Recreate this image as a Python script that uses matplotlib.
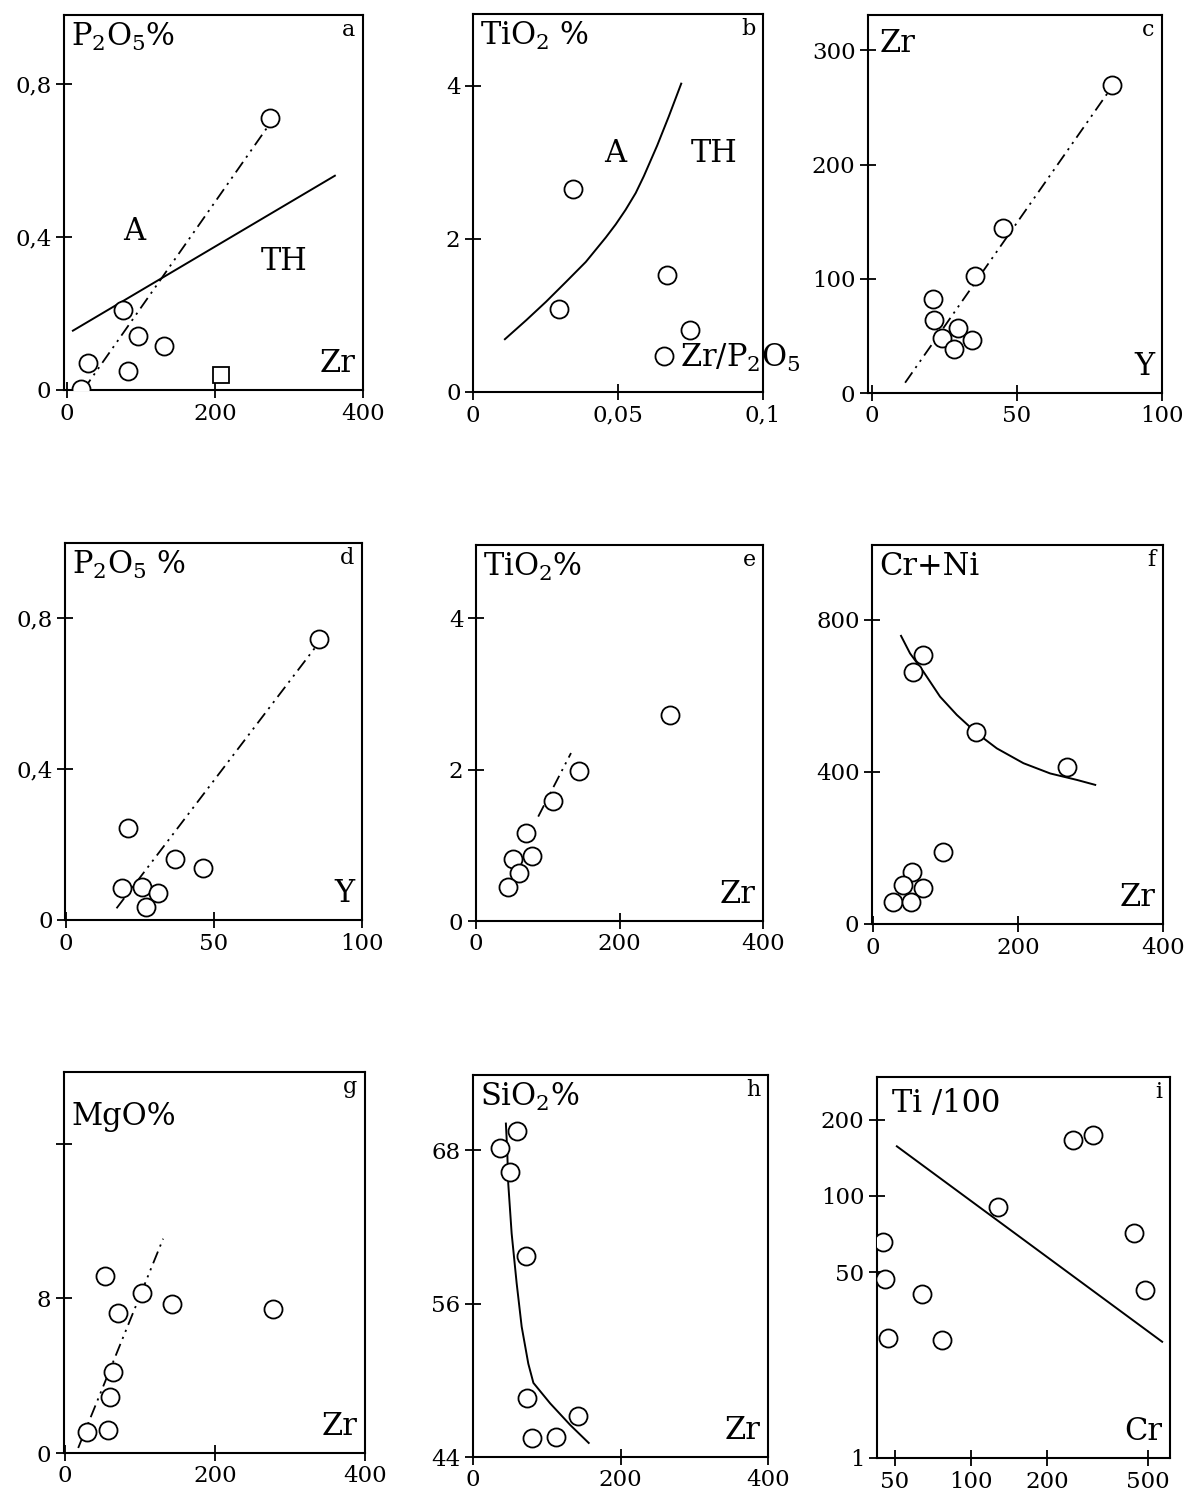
import matplotlib
matplotlib.use('Agg')
import matplotlib.pyplot as plt

plt.rcParams['font.family'] = ['DejaVu Serif']
plt.rcParams['mathtext.fontset'] = 'dejavuserif'

W, H = 1187, 1501

# a: P2O5 vs Zr
a_zr = [19, 29, 76, 96, 131, 83, 275]
a_p2o5 = [0.003, 0.07, 0.21, 0.14, 0.115, 0.05, 0.71]
a_sq_zr = [208]
a_sq_p2o5 = [0.04]
a_div_zr = [8, 362]
a_div_p2o5 = [0.155, 0.56]
a_trend_zr = [22, 272]
a_trend_p2o5 = [0.0, 0.69]

# b: TiO2 vs Zr/P2O5
b_ratio = [0.0346, 0.0295, 0.0668, 0.0747, 0.0658]
b_tio2 = [2.65, 1.08, 1.53, 0.81, 0.47]
b_div_ratio = [0.0110, 0.0184, 0.0252, 0.0321, 0.0389, 0.0458, 0.0492, 0.0526,
               0.0561, 0.0589, 0.0635, 0.0675, 0.0718]
b_div_tio2 = [0.69, 0.94, 1.18, 1.44, 1.70, 2.02, 2.19, 2.38, 2.60, 2.82, 3.22, 3.60, 4.03]

# c: Zr vs Y
c_y = [82.6, 45.3, 35.5, 21.1, 21.4, 24.0, 29.8, 28.3, 34.4]
c_zr = [269.5, 144.6, 102.4, 82.2, 63.9, 47.8, 56.6, 38.2, 46.4]
c_trend_y = [11.4, 81.5]
c_trend_zr = [9.0, 263.6]

# d: P2O5 vs Y
d_y = [85.6, 21.0, 37.0, 46.4, 19.1, 25.6, 31.0, 26.9]
d_p2o5 = [0.746, 0.243, 0.163, 0.139, 0.086, 0.088, 0.072, 0.035]
d_trend_y = [17.1, 84.7]
d_trend_p2o5 = [0.031, 0.728]

# e: TiO2 vs Zr
e_zr = [270, 143.8, 106.8, 69.4, 77.6, 52.1, 60.3, 44.3]
e_tio2 = [2.72, 1.98, 1.58, 1.16, 0.86, 0.82, 0.63, 0.45]
e_trend_zr = [86.7, 132.4]
e_trend_tio2 = [1.38, 2.22]

# f: Cr+Ni vs Zr
f_zr = [69, 56, 142, 267.6, 97.4, 53.8, 42.2, 69.8, 28.4, 52.4]
f_crni = [708, 664, 504, 412, 189, 138, 103, 96, 59, 59]
f_curve_zr = [39.0, 51.4, 69.8, 92.8, 115.9, 143.4, 171, 207.7, 244.6, 281.4, 306.6]
f_curve_crni = [758, 712, 664, 598, 550, 502, 462, 423, 396, 379, 366]

# g: MgO vs Zr
g_zr = [53.7, 102.9, 143.2, 277.4, 71.6, 64.0, 60.4, 58.2, 29.9]
g_mgo = [9.14, 8.25, 7.73, 7.47, 7.22, 4.21, 2.92, 1.20, 1.11]
g_trend_zr = [17.9, 131.1]
g_trend_mgo = [0.26, 11.08]

# h: SiO2 vs Zr
h_zr = [59.2, 36.4, 50.0, 71.9, 73.7, 142.4, 79.7, 112.4]
h_sio2 = [69.5, 68.2, 66.3, 59.7, 48.6, 47.2, 45.5, 45.6]
h_curve_zr = [44.6, 46.4, 47.8, 52.4, 59.2, 66.0, 75.0, 81.9, 104.6, 131.9, 156.9]
h_curve_sio2 = [70.1, 68.0, 65.4, 61.5, 57.6, 54.2, 51.3, 49.8, 48.2, 46.5, 45.1]

# i: Ti/100 vs Cr (log-log)
i_cr = [44.9, 45.5, 46.9, 63.8, 77, 127.8, 252, 304, 438, 488]
i_ti = [65.5, 47, 27.5, 40.9, 27, 90, 166, 174, 71, 42.5]
i_line_cr = [50.9, 568]
i_line_ti = [157, 26.5]

DASHDOT = (7, 3, 1.2, 3, 1.2, 3)
CIRC = dict(ls='none', marker='o', ms=13, mfc='white', mec='black', mew=1.3, zorder=3)
TICK_FS = 16.5
NAME_FS = 22
BIG_FS = 22


def make_axes(fig, box, xlim, ylim, xticks, xlabels, yticks, ylabels):
    l, r, t, b = box
    ax = fig.add_axes([l / W, 1 - b / H, (r - l) / W, (b - t) / H])
    ax.set_xlim(xlim)
    ax.set_ylim(ylim)
    ax.set_xticks(xticks)
    ax.set_xticklabels(xlabels)
    ax.set_yticks(yticks)
    ax.set_yticklabels(ylabels)
    ax.minorticks_off()
    ax.tick_params(direction='inout', length=12, width=1.3, labelsize=TICK_FS, pad=3)
    for s in ax.spines.values():
        s.set_linewidth(1.5)
    return ax


def labels(ax, name, letter, xname, name_y=0.985, name_x=0.025):
    ax.text(name_x, name_y, name, transform=ax.transAxes, ha='left', va='top', fontsize=NAME_FS)
    ax.text(0.975, 0.99, letter, transform=ax.transAxes, ha='right', va='top', fontsize=16)
    if xname:
        ax.text(0.975, 0.03, xname, transform=ax.transAxes, ha='right', va='bottom', fontsize=BIG_FS)


fig = plt.figure(figsize=(W / 100, H / 100), dpi=100)

# a
ax = make_axes(fig, (64, 363, 15, 390), (-4, 400), (0, 0.98),
               [0, 200, 400], ['0', '200', '400'], [0, 0.4, 0.8], ['0', '0,4', '0,8'])
ax.plot(a_div_zr, a_div_p2o5, color='black', lw=1.4)
ax.plot(a_trend_zr, a_trend_p2o5, color='black', lw=1.3, dashes=DASHDOT)
ax.plot(a_zr, a_p2o5, **CIRC)
ax.plot(a_sq_zr, a_sq_p2o5, ls='none', marker='s', ms=12, mfc='white', mec='black', mew=1.3)
ax.text(91, 0.415, 'A', ha='center', va='center', fontsize=BIG_FS)
ax.text(293, 0.337, 'TH', ha='center', va='center', fontsize=BIG_FS)
labels(ax, 'P$_2$O$_5$%', 'a', 'Zr')

# b
ax = make_axes(fig, (473, 763, 14, 392), (0, 0.1), (0, 4.94),
               [0, 0.05, 0.1], ['0', '0,05', '0,1'], [0, 2, 4], ['0', '2', '4'])
ax.plot(b_div_ratio, b_div_tio2, color='black', lw=1.4)
ax.plot(b_ratio, b_tio2, **CIRC)
ax.text(0.049, 3.12, 'A', ha='center', va='center', fontsize=BIG_FS)
ax.text(0.083, 3.12, 'TH', ha='center', va='center', fontsize=BIG_FS)
ax.text(0.0715, 0.44, 'Zr/P$_2$O$_5$', ha='left', va='center', fontsize=BIG_FS, clip_on=False)
labels(ax, 'TiO$_2$ %', 'b', None)

# c
ax = make_axes(fig, (868, 1162, 15, 393), (-1.4, 100), (0, 331),
               [0, 50, 100], ['0', '50', '100'], [0, 100, 200, 300], ['0', '100', '200', '300'])
ax.plot(c_trend_y, c_trend_zr, color='black', lw=1.3, dashes=DASHDOT)
ax.plot(c_y, c_zr, **CIRC)
labels(ax, 'Zr', 'c', 'Y', name_y=0.965, name_x=0.04)

# d
ax = make_axes(fig, (65, 362, 543, 920), (-0.3, 100), (0, 1.0),
               [0, 50, 100], ['0', '50', '100'], [0, 0.4, 0.8], ['0', '0,4', '0,8'])
ax.plot(d_trend_y, d_trend_p2o5, color='black', lw=1.3, dashes=DASHDOT)
ax.plot(d_y, d_p2o5, **CIRC)
labels(ax, 'P$_2$O$_5$ %', 'd', 'Y')

# e
ax = make_axes(fig, (476, 763, 545, 921), (0, 395), (0, 4.97),
               [0, 200, 400], ['0', '200', '400'], [0, 2, 4], ['0', '2', '4'])
ax.plot(e_trend_zr, e_trend_tio2, color='black', lw=1.3, dashes=DASHDOT)
ax.plot(e_zr, e_tio2, **CIRC)
labels(ax, 'TiO$_2$%', 'e', 'Zr')

# f
ax = make_axes(fig, (872, 1163, 545, 924), (-1, 400), (0, 997),
               [0, 200, 400], ['0', '200', '400'], [0, 400, 800], ['0', '400', '800'])
ax.plot(f_curve_zr, f_curve_crni, color='black', lw=1.4)
ax.plot(f_zr, f_crni, **CIRC)
labels(ax, 'Cr+Ni', 'f', 'Zr')

# g
ax = make_axes(fig, (64, 365, 1072, 1453), (-1, 400), (0, 19.7),
               [0, 200, 400], ['0', '200', '400'], [0, 8, 16], ['0', '8', ''])
ax.plot(g_trend_zr, g_trend_mgo, color='black', lw=1.3, dashes=DASHDOT)
ax.plot(g_zr, g_mgo, **CIRC)
labels(ax, 'MgO%', 'g', 'Zr', name_y=0.925)

# h
ax = make_axes(fig, (473, 768, 1075, 1457), (0, 400), (44, 73.9),
               [0, 200, 400], ['0', '200', '400'], [44, 56, 68], ['44', '56', '68'])
ax.plot(h_curve_zr, h_curve_sio2, color='black', lw=1.4)
ax.plot(h_zr, h_sio2, **CIRC)
labels(ax, 'SiO$_2$%', 'h', 'Zr')

# i
ax = make_axes(fig, (877, 1170, 1077, 1458), (42.5, 610), (9.2, 295),
               [50, 100, 200, 500], ['50', '100', '200', '500'], [50, 100, 200], ['50', '100', '200'])
ax.set_xscale('log')
ax.set_yscale('log')
ax.set_xlim(42.5, 610)
ax.set_ylim(9.2, 295)
ax.set_xticks([50, 100, 200, 500])
ax.set_xticklabels(['50', '100', '200', '500'])
ax.set_yticks([9.2, 50, 100, 200])
ax.set_yticklabels(['1', '50', '100', '200'])
ax.minorticks_off()
ax.plot(i_line_cr, i_line_ti, color='black', lw=1.4)
ax.plot(i_cr, i_ti, **CIRC)
labels(ax, 'Ti /100', 'i', 'Cr', name_y=0.97, name_x=0.05)

fig.savefig('out.png', dpi=100, facecolor='white')
